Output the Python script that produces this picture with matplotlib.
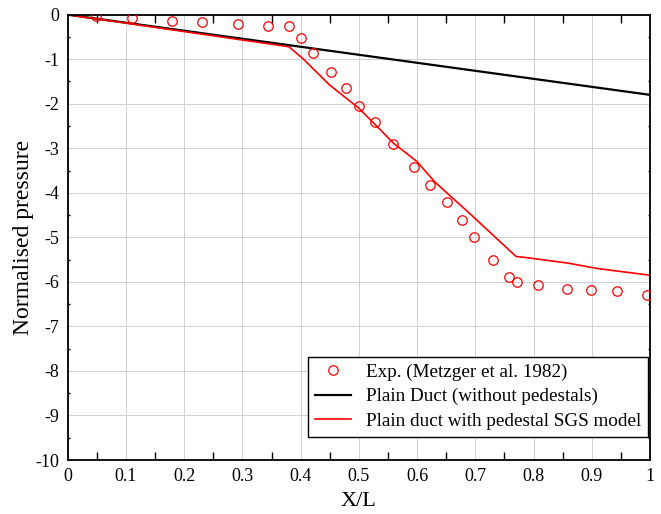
import matplotlib
matplotlib.use("Agg")
import matplotlib.pyplot as plt
from matplotlib.ticker import MultipleLocator, FuncFormatter

plt.rcParams['font.family'] = ['Liberation Serif', 'DejaVu Serif']
plt.rcParams['axes.unicode_minus'] = False

# Experimental data (Metzger et al. 1982)
exp_x = [0.049, 0.111, 0.179, 0.231, 0.292, 0.344, 0.380, 0.400, 0.422, 0.452,
         0.478, 0.500, 0.528, 0.558, 0.594, 0.623, 0.651, 0.677, 0.697, 0.731,
         0.757, 0.771, 0.808, 0.857, 0.899, 0.943, 0.994]
exp_y = [-0.02, -0.08, -0.14, -0.17, -0.20, -0.25, -0.26, -0.52, -0.87, -1.29,
         -1.65, -2.04, -2.42, -2.90, -3.42, -3.83, -4.21, -4.60, -4.99, -5.50,
         -5.89, -6.00, -6.08, -6.16, -6.19, -6.21, -6.29]

# Plain duct (without pedestals)
plain_x = [0.0, 1.0]
plain_y = [0.0, -1.80]

# Plain duct with pedestal SGS model
sgs_x = [0.0, 0.38, 0.405, 0.45, 0.50, 0.56, 0.60, 0.63, 0.69, 0.77, 0.785, 0.86, 0.91, 1.0]
sgs_y = [0.0, -0.72, -1.00, -1.58, -2.10, -2.89, -3.30, -3.75, -4.46, -5.43, -5.45, -5.58, -5.70, -5.85]

fig = plt.figure(figsize=(6.61, 5.14), dpi=100)
ax = fig.add_axes([0.1024, 0.105, 0.881, 0.8664])

ax.plot(exp_x, exp_y, linestyle='none', marker='o', markersize=6.8,
        markerfacecolor='none', markeredgecolor='red', markeredgewidth=0.9,
        label='Exp. (Metzger et al. 1982)', zorder=3)
ax.plot(plain_x, plain_y, color='black', lw=1.6, label='Plain Duct (without pedestals)', zorder=2)
ax.plot(sgs_x, sgs_y, color='red', lw=1.2, label='Plain duct with pedestal SGS model', zorder=2)

ax.set_xlim(0, 1)
ax.set_ylim(-10, 0)
ax.xaxis.set_major_locator(MultipleLocator(0.1))
ax.xaxis.set_minor_locator(MultipleLocator(0.05))
ax.yaxis.set_major_locator(MultipleLocator(1))
ax.yaxis.set_minor_locator(MultipleLocator(0.5))

def xfmt(v, pos):
    if abs(v) < 1e-9:
        return '0'
    if abs(v - 1) < 1e-9:
        return '1'
    return f'{v:.1f}'
ax.xaxis.set_major_formatter(FuncFormatter(xfmt))
ax.yaxis.set_major_formatter(FuncFormatter(lambda v, p: f'{int(round(v))}'))

ax.tick_params(which='major', length=0, labelsize=13, pad=6)
ax.tick_params(axis='x', which='minor', direction='in', length=6, width=1.0, top=True, bottom=True)
ax.tick_params(axis='y', which='minor', direction='in', length=1.5, width=1.0, left=True, right=True)

ax.grid(True, which='major', color='#d0d0d0', lw=0.7)
ax.set_axisbelow(True)

for s in ax.spines.values():
    s.set_linewidth(1.3)
    s.set_color('black')

ax.set_xlabel('X/L', fontsize=16, labelpad=5)
ax.set_ylabel('Normalised pressure', fontsize=17, labelpad=1)

leg = ax.legend(loc='lower right', bbox_to_anchor=(0.997, 0.052), fontsize=13.8,
                frameon=True, fancybox=False, framealpha=1, edgecolor='black',
                handlelength=1.9, borderpad=0.35, labelspacing=0.38, handletextpad=0.8,
                borderaxespad=0)
leg.get_frame().set_linewidth(1.0)

fig.savefig('out.png', dpi=100)
